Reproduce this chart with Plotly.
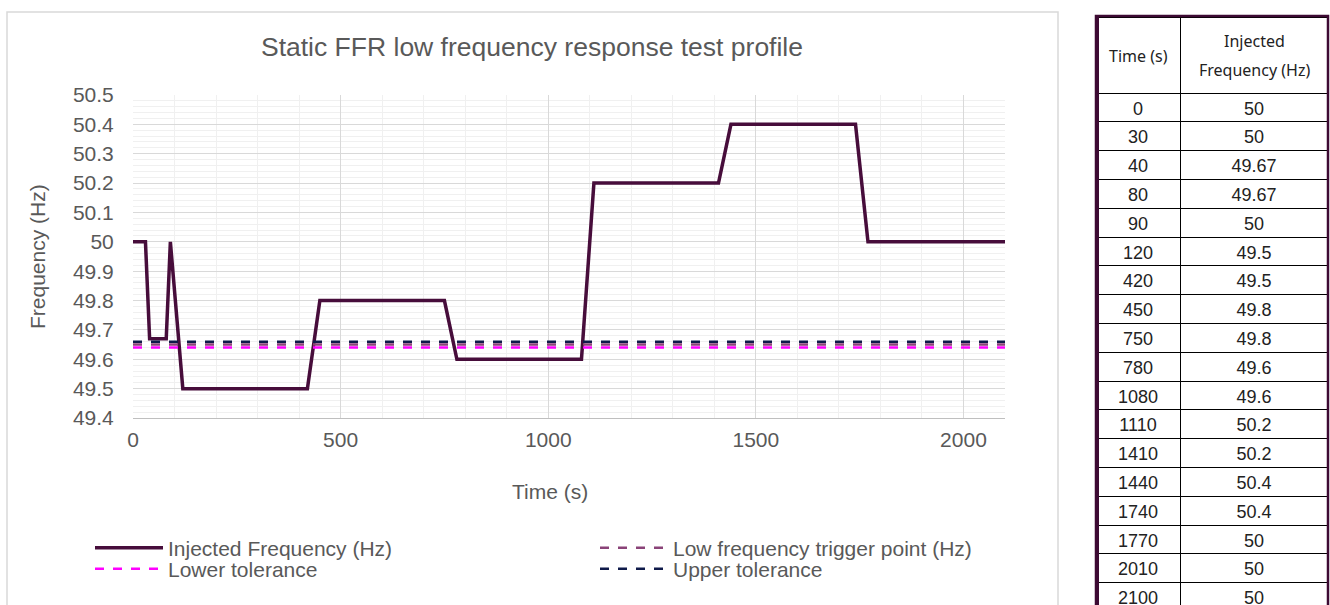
import plotly.graph_objects as go

W, H = 1330, 605

time_s = [0, 30, 40, 80, 90, 120, 420, 450, 750, 780, 1080, 1110, 1410, 1440, 1740, 1770, 2010, 2100]
inj_freq = [50, 50, 49.67, 49.67, 50, 49.5, 49.5, 49.8, 49.8, 49.6, 49.6, 50.2, 50.2, 50.4, 50.4, 50, 50, 50]
inj_freq_txt = ["50", "50", "49.67", "49.67", "50", "49.5", "49.5", "49.8", "49.8", "49.6", "49.6",
                "50.2", "50.2", "50.4", "50.4", "50", "50", "50"]

ref_time = [0, 2100]
trigger = [49.65, 49.65]
lower_tol = [49.64, 49.64]
upper_tol = [49.66, 49.66]

y_ticks = [49.4, 49.5, 49.6, 49.7, 49.8, 49.9, 50.0, 50.1, 50.2, 50.3, 50.4, 50.5]
y_tick_text = ["49.4", "49.5", "49.6", "49.7", "49.8", "49.9", "50", "50.1", "50.2", "50.3", "50.4", "50.5"]
x_ticks = [0, 500, 1000, 1500, 2000]

GREY = "#595959"
FONT = "Liberation Sans, Arial, sans-serif"
HFONT = "Noto Sans, sans-serif"

fig = go.Figure()
fig.add_trace(go.Scatter(x=time_s, y=inj_freq, mode="lines", name="Injected Frequency (Hz)",
                         line=dict(color="#470d3b", width=3.5), legend="legend"))
fig.add_trace(go.Scatter(x=ref_time, y=trigger, mode="lines", name="Low frequency trigger point (Hz)",
                         line=dict(color="#8a4378", width=2.5, dash="dash"), legend="legend"))
fig.add_trace(go.Scatter(x=ref_time, y=lower_tol, mode="lines", name="Lower tolerance",
                         line=dict(color="#ff00ff", width=2.5, dash="dash"), legend="legend2"))
fig.add_trace(go.Scatter(x=ref_time, y=upper_tol, mode="lines", name="Upper tolerance",
                         line=dict(color="#0f1a4a", width=2.5, dash="dash"), legend="legend2"))

fig.add_trace(go.Table(
    domain=dict(x=[1096 / W, 1328 / W], y=[0, 1 - 17 / H]),
    columnwidth=[84, 148],
    header=dict(values=["", ""], height=76, align="center",
                font=dict(family=HFONT, size=16, color="#222222"),
                line=dict(color="#000000", width=1), fill=dict(color="white")),
    cells=dict(values=[[str(t) for t in time_s], inj_freq_txt],
               height=28.8, align="center",
               font=dict(family=FONT, size=18, color="#222222"),
               line=dict(color="#000000", width=1), fill=dict(color="white")),
))

legend_common = dict(orientation="h", xanchor="left", yanchor="middle",
                     entrywidth=422, entrywidthmode="pixels", itemwidth=68,
                     font=dict(size=21, color=GREY), bgcolor="rgba(0,0,0,0)")

fig.update_layout(
    width=W, height=H,
    margin=dict(l=0, r=0, t=0, b=0, autoexpand=False),
    paper_bgcolor="white", plot_bgcolor="white",
    font=dict(family=FONT, color=GREY, size=21),
    title=dict(text="Static FFR low frequency response test profile", x=532 / W, xanchor="center",
               y=1 - 47 / H, yanchor="middle", font=dict(size=26.5, color=GREY)),
    xaxis=dict(domain=[133 / W, 1005 / W], range=[0, 2100], tickvals=x_ticks,
               showgrid=True, gridcolor="#d9d9d9", gridwidth=1,
               minor=dict(dtick=100, tick0=0, showgrid=True, gridcolor="#f0f0f0", gridwidth=1),
               showline=True, linecolor="#bfbfbf", linewidth=1, zeroline=False, automargin=False,
               ticks="outside", ticklen=3, tickcolor="rgba(0,0,0,0)",
               tickfont=dict(size=21, color=GREY)),
    yaxis=dict(domain=[1 - 418 / H, 1 - 95 / H], range=[49.4, 50.5], tickvals=y_ticks, ticktext=y_tick_text,
               showgrid=True, gridcolor="#d9d9d9", gridwidth=1,
               minor=dict(dtick=0.02, tick0=49.4, showgrid=True, gridcolor="#f0f0f0", gridwidth=1),
               showline=False, zeroline=False, automargin=False,
               ticks="outside", ticklen=14, tickcolor="rgba(0,0,0,0)",
               tickfont=dict(size=21, color=GREY)),
    legend=dict(x=90 / W, y=1 - 548 / H, **legend_common),
    legend2=dict(x=90 / W, y=1 - 569 / H, **legend_common),
    annotations=[
        dict(text="Frequency (Hz)", x=37 / W, y=1 - 257 / H, xref="paper", yref="paper",
             xanchor="center", yanchor="middle",
             textangle=-90, showarrow=False, font=dict(size=21, color=GREY)),
        dict(text="Time (s)", x=550 / W, y=1 - 491 / H, xref="paper", yref="paper",
             xanchor="center", yanchor="middle",
             showarrow=False, font=dict(size=21, color=GREY)),
        dict(text="Time (s)", x=1138 / W, y=1 - 56 / H, xref="paper", yref="paper",
             xanchor="center", yanchor="middle", showarrow=False,
             font=dict(family=HFONT, size=16, color="#222222")),
        dict(text="Injected", x=1254 / W, y=1 - 41 / H, xref="paper", yref="paper",
             xanchor="center", yanchor="middle", showarrow=False,
             font=dict(family=HFONT, size=16, color="#222222")),
        dict(text="Frequency (Hz)", x=1254 / W, y=1 - 70 / H, xref="paper", yref="paper",
             xanchor="center", yanchor="middle", showarrow=False,
             font=dict(family=HFONT, size=16, color="#222222")),
    ],
    shapes=[
        dict(type="rect", xref="paper", yref="paper", x0=7 / W, x1=1058 / W, y0=-0.05, y1=1 - 12 / H,
             line=dict(color="#d9d9d9", width=1.5), layer="below"),
        dict(type="rect", xref="paper", yref="paper", x0=1096 / W, x1=1328 / W, y0=-0.05, y1=1 - 16 / H,
             line=dict(color="#3d0a33", width=2.5), layer="above"),
        dict(type="line", xref="paper", yref="paper", x0=1097 / W, x1=1097 / W, y0=-0.05, y1=1 - 15 / H,
             line=dict(color="#3d0a33", width=4), layer="above"),
    ],
)

fig.write_html("out.html", config={"displayModeBar": False},
               post_script="document.body.style.margin='0px';")
